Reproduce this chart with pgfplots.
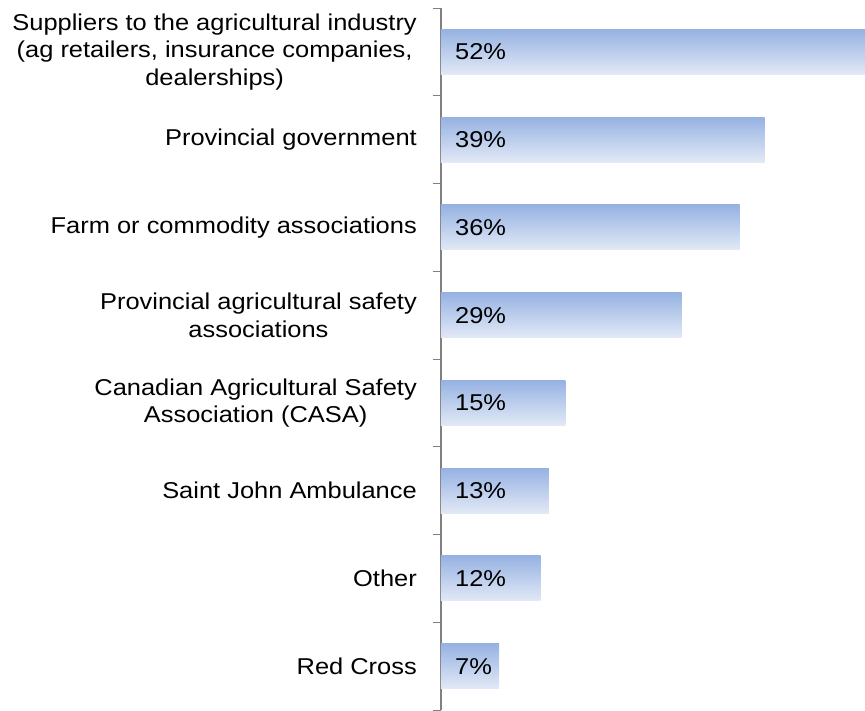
\documentclass[border=0pt]{standalone}
\usepackage{fontspec}
\setmainfont[FakeStretch=1.11]{Liberation Sans}
\usepackage{pgfplots}
\pgfplotsset{compat=1.18}

\definecolor{barTop}{RGB}{150,178,226}
\definecolor{barBot}{RGB}{226,233,246}
\definecolor{axisGray}{RGB}{128,128,128}

\pgfplotsset{
	gradbar/.style={xbar, bar width=45bp, bar shift=0pt, draw=none,
		top color=barTop, bottom color=barBot},
}

\begin{document}
\fontsize{23}{27.5}\selectfont
\begin{tikzpicture}
\begin{axis}[
	scale only axis,
	width=424bp, height=702bp,
	xmin=0, xmax=51.1,
	ymin=-0.5, ymax=7.5,
	y dir=reverse,
	hide x axis,
	axis y line*=left,
	y axis line style={axisGray, line width=1.6bp},
	ytick={0,...,7},
	yticklabels={
		{Suppliers to the agricultural industry\\(ag retailers, insurance companies,\\dealerships)},
		{Provincial government},
		{Farm or commodity associations},
		{Provincial agricultural safety\\associations},
		{Canadian Agricultural Safety\\Association (CASA)},
		{Saint John Ambulance},
		{Other},
		{Red Cross}},
	yticklabel style={align=center, inner sep=0pt,
		font=\fontsize{23}{27.5}\selectfont, xshift=-24bp},
	minor ytick={-0.5,0.5,...,7.5},
	major tick length=0pt,
	minor tick length=8bp,
	tick align=outside,
	minor tick style={axisGray, line width=0.8bp},
]
% one plot per bar so that every bar gets its own gradient
\addplot[gradbar] coordinates {(52,0)};
\addplot[gradbar] coordinates {(39,1)};
\addplot[gradbar] coordinates {(36,2)};
\addplot[gradbar] coordinates {(29,3)};
\addplot[gradbar] coordinates {(15,4)};
\addplot[gradbar] coordinates {(13,5)};
\addplot[gradbar] coordinates {(12,6)};
\addplot[gradbar] coordinates {(7,7)};
\addplot[only marks, mark=*, mark size=0pt, mark options={draw=none, fill=none},
	nodes near coords, point meta=explicit symbolic,
	every node near coord/.style={anchor=west, inner sep=0pt, xshift=14bp,
		font=\fontsize{23}{27.5}\selectfont, text=black}]
	coordinates {(0,0)[52\%] (0,1)[39\%] (0,2)[36\%] (0,3)[29\%]
		(0,4)[15\%] (0,5)[13\%] (0,6)[12\%] (0,7)[7\%]};
\end{axis}
\path ([yshift=8bp]current axis.north) ([xshift=-441bp]current axis.west);
\end{tikzpicture}
\end{document}
